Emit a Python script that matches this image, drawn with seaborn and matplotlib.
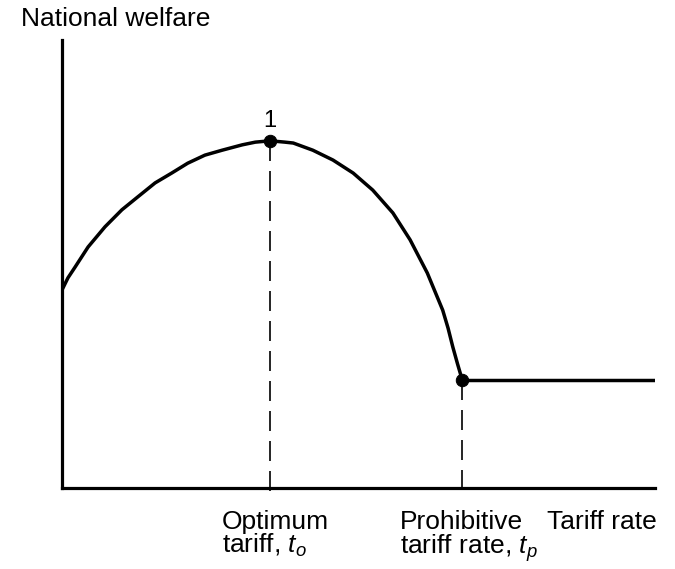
import matplotlib
matplotlib.use("Agg")
import matplotlib.pyplot as plt
import seaborn as sns
import pandas as pd

# Welfare curve as a function of the tariff rate (rising to the optimum, falling to the prohibitive rate)
tariff = [0, 1.0, 2.2, 4.4, 7.25, 10.1, 12.8, 15.7, 18.5, 21.2, 24.1, 27.0, 30.4, 32.6, 35.1,
          37.6, 39.0, 42.3, 45.7, 49.1, 52.4, 55.8, 58.7, 61.6, 64.2, 65.1, 65.9, 66.7, 67.5]
welfare = [44.2, 46.9, 49.3, 53.8, 58.3, 62.1, 65.0, 68.1, 70.3, 72.5, 74.3, 75.4, 76.6, 77.2, 77.5,
           77.2, 77.0, 75.4, 73.2, 70.3, 66.5, 61.4, 55.4, 48.0, 39.7, 35.7, 31.5, 27.7, 24.1]

# Beyond the prohibitive rate welfare stays at the autarky level
flat_tariff = [67.5, 100]
flat_welfare = [24.1, 24.1]

optimum_t, optimum_w = 35.1, 77.5
prohibitive_t, prohibitive_w = 67.5, 24.1

x_labels = ["Optimum\ntariff, $\\mathit{t}_{\\mathit{o}}$",
            "Prohibitive\ntariff rate, $\\mathit{t}_{\\mathit{p}}$"]

sns.set_style("white")
plt.rcParams["font.family"] = ["Liberation Sans", "DejaVu Sans"]
plt.rcParams["text.color"] = "black"
plt.rcParams["mathtext.fontset"] = "custom"
plt.rcParams["mathtext.rm"] = "Liberation Sans"
plt.rcParams["mathtext.it"] = "Liberation Sans:italic"

fig = plt.figure(figsize=(6.75, 5.69), dpi=100)
ax = fig.add_axes([62 / 675, 81 / 569, 593 / 675, 448 / 569])

curve = pd.DataFrame({"tariff": tariff, "welfare": welfare})
flat = pd.DataFrame({"tariff": flat_tariff, "welfare": flat_welfare})
sns.lineplot(data=curve, x="tariff", y="welfare", ax=ax, color="black",
             linewidth=2.5, sort=False, estimator=None)
sns.lineplot(data=flat, x="tariff", y="welfare", ax=ax, color="black",
             linewidth=2.5, sort=False, estimator=None)

# Dashed drop lines to the horizontal axis
ax.plot([optimum_t, optimum_t], [optimum_w, -2], color="black", lw=1.2,
        dashes=(12, 6), clip_on=False)
ax.plot([prohibitive_t, prohibitive_t], [prohibitive_w, -2], color="black", lw=1.2,
        dashes=(12, 6), clip_on=False)

sns.scatterplot(x=[optimum_t, prohibitive_t], y=[optimum_w, prohibitive_w], ax=ax,
                color="black", s=80, edgecolor="black", zorder=5, clip_on=False)

ax.text(optimum_t, 80.6, "1", ha="center", va="baseline", fontsize=17, color="black")

ax.set_xlim(0, 100)
ax.set_ylim(0, 100)
ax.set_xticks([])
ax.set_yticks([])
ax.set_xlabel("")
ax.set_ylabel("")
for side in ("top", "right"):
    ax.spines[side].set_visible(False)
for side in ("left", "bottom"):
    ax.spines[side].set_linewidth(2.3)
    ax.spines[side].set_color("black")

label_y = -4.9
ax.text(27.0, label_y, x_labels[0], ha="left", va="top", fontsize=19,
        linespacing=0.9, clip_on=False, color="black")
ax.text(57.0, label_y, x_labels[1], ha="left", va="top", fontsize=19,
        linespacing=0.9, clip_on=False, color="black")
ax.text(100.3, label_y, "Tariff rate", ha="right", va="top", fontsize=19,
        clip_on=False, color="black")
fig.text(21 / 675, 1 - 7 / 569, "National welfare", ha="left", va="top",
         fontsize=19, color="black")

fig.savefig("out.png", dpi=100, facecolor="white")
